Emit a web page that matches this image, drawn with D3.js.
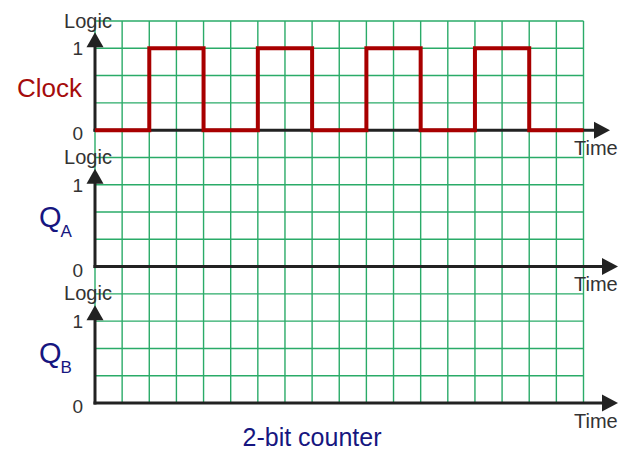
<!DOCTYPE html>
<html lang="en">
<head>
<meta charset="UTF-8">
<title>2-bit counter</title>
<script src="https://d3js.org/d3.v7.min.js"></script>
<style>
  html, body { margin: 0; padding: 0; background: #fff; }
  svg { display: block; font-family: "Liberation Sans", Arial, sans-serif; }
</style>
</head>
<body>
<svg id="chart" width="632" height="452"></svg>
<script>
// signals, top to bottom
const signals = ["Clock", "QA", "QB"];
// clock level for each of the 18 time divisions
const clockLevels = [0, 0, 1, 1, 0, 0, 1, 1, 0, 0, 1, 1, 0, 0, 1, 1, 0, 0];
const levelTicks = ["0", "1"];
const title = "2-bit counter";

const svg = d3.select("#chart");

const nCols = clockLevels.length;   // 18
const nRows = 14;

const x = d3.scaleLinear().domain([0, nCols]).range([95, 583.5]);
const row = d3.scaleLinear().domain([0, nRows]).range([21, 403]);

// row index of the 0 level for each panel
const zeroRow = [4, 9, 14];
// arrow tip of the time axis (top one is a bit shorter)
const arrowTip = [610, 618, 618];

// grid
const grid = svg.append("g").attr("stroke", "#2aab68").attr("stroke-width", 1.4);
grid.selectAll("line.v")
  .data(d3.range(nCols + 1))
  .join("line")
  .attr("class", "v")
  .attr("x1", d => x(d)).attr("x2", d => x(d))
  .attr("y1", row(0)).attr("y2", row(nRows));
grid.selectAll("line.h")
  .data(d3.range(nRows + 1))
  .join("line")
  .attr("class", "h")
  .attr("x1", x(0)).attr("x2", x(nCols))
  .attr("y1", d => row(d)).attr("y2", d => row(d));

signals.forEach((name, i) => {
  const y0 = row(zeroRow[i]);
  const y = d3.scaleLinear().domain([0, 1]).range([y0, row(zeroRow[i] - 3)]);
  const g = svg.append("g");

  // vertical axis + arrow
  g.append("line")
    .attr("x1", x(0)).attr("x2", x(0))
    .attr("y1", y0 + 1.5).attr("y2", y(1) - 2)
    .attr("stroke", "#222").attr("stroke-width", 3);
  g.append("path")
    .attr("d", `M${x(0)},${y(1) - 16} L${x(0) - 8.5},${y(1) - 1} L${x(0) + 8.5},${y(1) - 1} Z`)
    .attr("fill", "#222");

  // time axis + arrow
  const tip = arrowTip[i];
  g.append("line")
    .attr("x1", x(0) - 1.5).attr("x2", tip - 14)
    .attr("y1", y0).attr("y2", y0)
    .attr("stroke", "#222").attr("stroke-width", 3);
  g.append("path")
    .attr("d", `M${tip},${y0} L${tip - 16},${y0 - 8.5} L${tip - 16},${y0 + 8.5} Z`)
    .attr("fill", "#222");

  // labels
  g.append("text")
    .attr("x", 88).attr("y", row(zeroRow[i] - 4) + 6.5)
    .attr("text-anchor", "middle")
    .attr("font-size", 20).attr("fill", "#333")
    .text("Logic");
  g.selectAll("text.lvl")
    .data(levelTicks)
    .join("text")
    .attr("class", "lvl")
    .attr("x", 83)
    .attr("y", (d, k) => y(k) + (k === 0 ? 10 : 7))
    .attr("text-anchor", "end")
    .attr("font-size", 19).attr("fill", "#333")
    .text(d => d);
  g.append("text")
    .attr("x", 574).attr("y", y0 + 24.5)
    .attr("font-size", 20).attr("fill", "#333")
    .text("Time");

  // signal name
  if (name === "Clock") {
    g.append("text")
      .attr("x", 82).attr("y", (y(0) + y(1)) / 2 + 8)
      .attr("text-anchor", "end")
      .attr("font-size", 26).attr("fill", "#a50c0c")
      .text(name);
  } else {
    const t = g.append("text")
      .attr("x", 39).attr("y", (y(0) + y(1)) / 2 + 1)
      .attr("font-size", 29).attr("fill", "#161680");
    t.append("tspan").text(name[0]);
    t.append("tspan").attr("font-size", 17).attr("dy", 10).attr("dx", -1).text(name.slice(1));
  }

  // waveform
  if (name === "Clock") {
    const pts = clockLevels.map((v, k) => [k, v]);
    pts.push([nCols, clockLevels[nCols - 1]]);
    const line = d3.line()
      .x(d => x(d[0]))
      .y(d => y(d[1]))
      .curve(d3.curveStepAfter);
    g.append("path")
      .datum(pts)
      .attr("d", line)
      .attr("fill", "none")
      .attr("stroke", "#a80000")
      .attr("stroke-width", 4)
      .attr("stroke-linejoin", "miter");
  }
});

svg.append("text")
  .attr("x", 312).attr("y", 446)
  .attr("text-anchor", "middle")
  .attr("font-size", 25).attr("fill", "#161680")
  .text(title);
</script>
</body>
</html>
